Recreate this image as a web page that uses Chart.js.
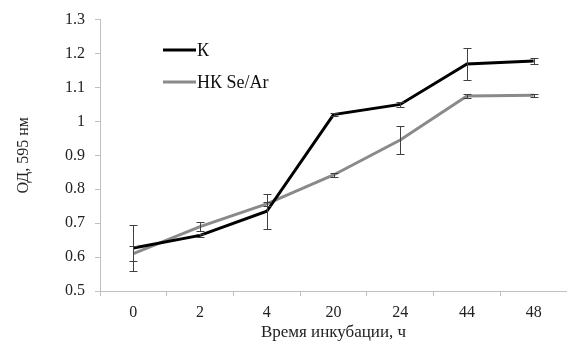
<!DOCTYPE html>
<html>
<head>
<meta charset="utf-8">
<script src="https://cdn.jsdelivr.net/npm/chart.js@4"></script>
<style>
  html, body { margin: 0; padding: 0; background: #fff; }
  #wrap { width: 567px; height: 343px; }
</style>
</head>
<body>
<div id="wrap"><canvas id="grafik" width="567" height="343"></canvas></div>
<script>
const hours = ['0', '2', '4', '20', '24', '44', '48'];
const kValues = [0.627, 0.664, 0.735, 1.02, 1.05, 1.169, 1.178];
const kErrors = [0.068, 0.005, 0.052, 0.004, 0.008, 0.048, 0.01];
const nkValues = [0.61, 0.69, 0.757, 0.842, 0.945, 1.075, 1.077];
const nkErrors = [0.022, 0.012, 0.005, 0.005, 0.04, 0.006, 0.005];
const yTicks = [0.5, 0.6, 0.7, 0.8, 0.9, 1, 1.1, 1.2, 1.3];

const serif = '"Liberation Serif", "Times New Roman", serif';

// error bars, drawn over the lines
const errorBars = {
    id: 'errorBars',
    afterDatasetsDraw(chart) {
        const ctx = chart.ctx;
        const y = chart.scales.y;
        ctx.save();
        ctx.strokeStyle = '#404040';
        ctx.lineWidth = 1;
        chart.data.datasets.forEach((ds, di) => {
            const meta = chart.getDatasetMeta(di);
            ds.errors.forEach((e, i) => {
                const x = Math.round(meta.data[i].x) + 0.5;
                const top = Math.round(y.getPixelForValue(ds.data[i] + e)) + 0.5;
                const bot = Math.round(y.getPixelForValue(ds.data[i] - e)) + 0.5;
                ctx.beginPath();
                ctx.moveTo(x, top); ctx.lineTo(x, bot);
                ctx.moveTo(x - 4, top); ctx.lineTo(x + 4, top);
                ctx.moveTo(x - 4, bot); ctx.lineTo(x + 4, bot);
                ctx.stroke();
            });
        });
        ctx.restore();
    }
};

// legend inside the plot area
const innerLegend = {
    id: 'innerLegend',
    afterDraw(chart) {
        const ctx = chart.ctx;
        ctx.save();
        ctx.font = '18px ' + serif;
        ctx.textBaseline = 'middle';
        ctx.fillStyle = '#111';
        chart.data.datasets.forEach((ds, i) => {
            const yy = 50 + i * 32;
            ctx.strokeStyle = ds.borderColor;
            ctx.lineWidth = 3;
            ctx.beginPath();
            ctx.moveTo(163, yy); ctx.lineTo(196, yy);
            ctx.stroke();
            ctx.fillText(ds.label, 197, yy + 1);
        });
        ctx.restore();
    }
};

new Chart(document.getElementById('grafik'), {
    type: 'line',
    data: {
        labels: hours,
        datasets: [{
            label: 'К',
            data: kValues,
            errors: kErrors,
            borderColor: '#000000',
            borderWidth: 3,
            pointRadius: 0,
            tension: 0
        }, {
            label: 'НК Se/Ar',
            data: nkValues,
            errors: nkErrors,
            borderColor: '#8a8a8a',
            borderWidth: 3,
            pointRadius: 0,
            tension: 0
        }]
    },
    options: {
        responsive: false,
        animation: false,
        layout: { padding: { top: 18, right: 0, left: 0, bottom: 0 } },
        plugins: {
            legend: { display: false },
            tooltip: { enabled: false }
        },
        scales: {
            x: {
                offset: true,
                grid: {
                    offset: true,
                    drawOnChartArea: false,
                    drawTicks: true,
                    tickLength: 5,
                    color: '#bfbfbf'
                },
                border: { color: '#bfbfbf', width: 1 },
                ticks: {
                    color: '#222',
                    font: { family: serif, size: 16 },
                    padding: 7,
                    maxRotation: 0
                },
                title: {
                    display: true,
                    text: 'Время инкубации, ч',
                    color: '#222',
                    font: { family: serif, size: 17 },
                    padding: { top: 3, bottom: 0 }
                },
                afterFit(scale) { scale.height = 52; }
            },
            y: {
                min: 0.5,
                max: 1.3,
                afterBuildTicks(scale) {
                    scale.ticks = yTicks.map(v => ({ value: v }));
                },
                grid: {
                    drawOnChartArea: false,
                    drawTicks: true,
                    tickLength: 5,
                    color: '#bfbfbf'
                },
                border: { color: '#bfbfbf', width: 1 },
                ticks: {
                    color: '#222',
                    font: { family: serif, size: 16 },
                    padding: 10,
                    callback: v => String(Math.round(v * 10) / 10)
                },
                title: {
                    display: true,
                    text: 'ОД, 595 нм',
                    color: '#222',
                    font: { family: serif, size: 16 },
                    padding: { top: 14, bottom: 0 }
                },
                afterFit(scale) { scale.width = 100; }
            }
        }
    },
    plugins: [errorBars, innerLegend]
});
</script>
</body>
</html>
